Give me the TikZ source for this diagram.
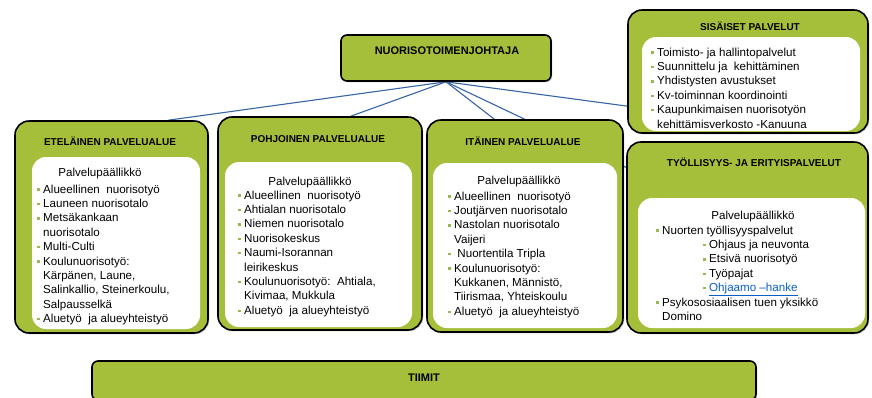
\documentclass[tikz,border=0pt]{standalone}
\usepackage{fontspec}
\setmainfont{Liberation Sans}
\usetikzlibrary{shadows,backgrounds}

\definecolor{areagreen}{RGB}{165,191,58}
\definecolor{dotgreen}{RGB}{150,185,80}
\definecolor{linkblue}{RGB}{55,100,165}
\definecolor{hyperblue}{RGB}{10,95,195}
\newcommand{\bul}{\makebox[6pt][l]{\textcolor{dotgreen}{\rule[2.4pt]{2.4pt}{2.4pt}}}}
\newcommand{\ind}{\hspace*{6pt}}
\newcommand{\sub}{\hspace*{47pt}\bul}

\begin{document}
\begin{tikzpicture}[x=1pt, y=-1pt,
    areabox/.style={draw=black, line width=1.6pt, fill=areagreen, rounded corners=14pt, inner sep=0pt,
        drop shadow={shadow xshift=1.3pt, shadow yshift=-1.3pt, opacity=0.35}},
    whitebox/.style={fill=white, rounded corners=14pt, inner sep=0pt},
    heading/.style={font=\bfseries\fontsize{10}{12}\selectfont, inner sep=0pt},
    boss/.style={font=\fontsize{11.6}{14.4}\selectfont, inner sep=0pt},
    items/.style={font=\fontsize{11.6}{14.4}\selectfont, align=left, anchor=north west, inner sep=0pt},
    link/.style={draw=linkblue, line width=1.1pt}]
    \useasboundingbox (0,0) rectangle (872,397);
    \clip (0,0) rectangle (872,397);

    \node[areabox, rounded corners=6pt, minimum width=210pt, minimum height=46pt] (chief) at (446,58) {};
    \node[heading, font=\bfseries\fontsize{11}{13}\selectfont] (chieftitle) at (447,51) {NUORISOTOIMENJOHTAJA};

    \node[areabox, minimum width=193pt, minimum height=212pt] (etela) at (111.5,227) {};
    \node[whitebox, minimum width=168pt, minimum height=172pt] (etelain) at (116,243) {};
    \node[heading] (etelatitle) at (110,141) {ETELÄINEN PALVELUALUE};
    \node[boss] (etelaboss) at (100,173) {Palvelupäällikkö};
    \node[items] (etelalist) at (37,184.5) {\bul Alueellinen\ \ nuorisotyö\\ \bul Launeen nuorisotalo\\
        \bul Metsäkankaan\\ \ind nuorisotalo\\ \bul Multi-Culti\\ \bul Koulunuorisotyö:\\
        \ind Kärpänen, Laune,\\ \ind Salinkallio, Steinerkoulu,\\ \ind Salpausselkä\\
        \bul Aluetyö\ \ ja alueyhteistyö};

    \node[areabox, minimum width=204pt, minimum height=213pt] (pohjoinen) at (320,223.5) {};
    \node[whitebox, minimum width=187pt, minimum height=165pt] (pohjoinenin) at (318.5,244.5) {};
    \node[heading] (pohjoinentitle) at (318,139) {POHJOINEN PALVELUALUE};
    \node[boss] (pohjoinenboss) at (310,182) {Palvelupäällikkö};
    \node[items] (pohjoinenlist) at (238,190.5) {\bul Alueellinen\ \ nuorisotyö\\ \bul Ahtialan nuorisotalo\\
        \bul Niemen nuorisotalo\\ \bul Nuorisokeskus\\ \bul Naumi-Isorannan\\ \ind leirikeskus\\
        \bul Koulunuorisotyö:\ \ Ahtiala,\\ \ind Kivimaa, Mukkula\\ \bul Aluetyö\ \ ja alueyhteistyö};

    \node[areabox, minimum width=196pt, minimum height=212pt] (itainen) at (525,226) {};
    \node[whitebox, minimum width=184pt, minimum height=165pt] (itainenin) at (525,245.5) {};
    \node[heading] (itainentitle) at (523,141) {ITÄINEN PALVELUALUE};
    \node[boss] (itainenboss) at (519,181) {Palvelupäällikkö};
    \node[items] (itainenlist) at (448,191.5) {\bul Alueellinen\ \ nuorisotyö\\ \bul Joutjärven nuorisotalo\\
        \bul Nastolan nuorisotalo\\ \ind Vaijeri\\ \bul\ Nuortentila Tripla\\ \bul Koulunuorisotyö:\\
        \ind Kukkanen, Männistö,\\ \ind Tiirismaa, Yhteiskoulu\\ \bul Aluetyö\ \ ja alueyhteistyö};

    \node[areabox, minimum width=241pt, minimum height=191pt] (tyollisyys) at (747.5,237.5) {};
    \node[whitebox, minimum width=227pt, minimum height=130pt] (tyollisyysin) at (751.5,263) {};
    \node[heading] (tyollisyystitle) at (754,162) {TYÖLLISYYS- JA ERITYISPALVELUT};
    \node[boss] (tyollisyysboss) at (753,216) {Palvelupäällikkö};
    \node[items] (tyollisyyslist) at (656,225.5) {\bul Nuorten työllisyyspalvelut\\ \sub Ohjaus ja neuvonta\\
        \sub Etsivä nuorisotyö\\ \sub Työpajat\\ \sub \textcolor{hyperblue}{\underline{Ohjaamo –hanke}}\\
        \bul Psykososiaalisen tuen yksikkö\\ \ind Domino};

    \node[areabox, minimum width=240pt, minimum height=123pt] (sisaiset) at (748,71.5) {};
    \node[whitebox, minimum width=218pt, minimum height=94pt] (sisaisetin) at (751,84) {};
    \node[heading] (sisaisettitle) at (750,26) {SISÄISET PALVELUT};
    \node[items] (sisaisetlist) at (651,47.5) {\bul Toimisto- ja hallintopalvelut\\ \bul Suunnittelu ja\ \ kehittäminen\\
        \bul Yhdistysten avustukset\\ \bul Kv-toiminnan koordinointi\\ \bul Kaupunkimaisen nuorisotyön\\
        \ind kehittämisverkosto -Kanuuna};

    \node[areabox, rounded corners=6pt, minimum width=664pt, minimum height=39pt] (tiimit) at (424,380.5) {};
    \node[heading, font=\bfseries\fontsize{11}{13}\selectfont] (tiimittitle) at (424,378) {TIIMIT};

    \begin{pgfonlayer}{background}
        \draw[link] (chief.south) -- (etela.62);
        \draw[link] (chief.south) -- (pohjoinen.74);
        \draw[link] (chief.south) -- (itainen.106);
        \draw[link] (chief.south) -- (tyollisyys.150);
        \draw[link] (chief.south) -- (sisaiset.196);
    \end{pgfonlayer}
\end{tikzpicture}
\end{document}
